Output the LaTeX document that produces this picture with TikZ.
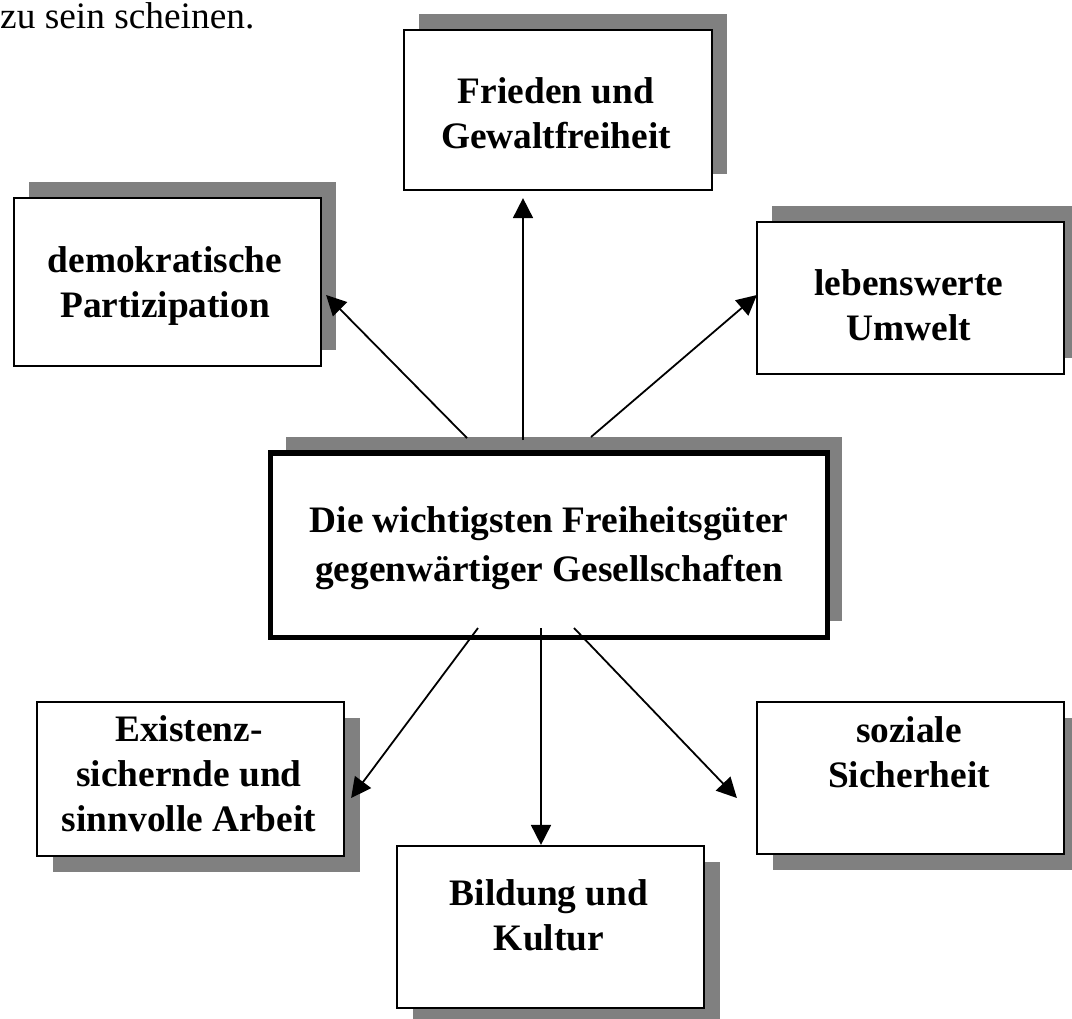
\documentclass[tikz,border=0pt]{standalone}
\usepackage{fontspec}
\setmainfont{Liberation Serif}
\usetikzlibrary{arrows.meta,shadows,calc}
\definecolor{shadowgray}{HTML}{808080}
\begin{document}
\begin{tikzpicture}[x=1bp,y=-1bp,
  box/.style={draw=black, line width=2.2bp, fill=white, inner sep=0pt},
  upshadow/.style={general shadow={fill=shadowgray, shadow xshift=15bp, shadow yshift=16bp}},
  downshadow/.style={general shadow={fill=shadowgray, shadow xshift=16bp, shadow yshift=-16bp}},
  lbl/.style={font=\fontsize{37.5}{45}\selectfont\bfseries, align=center, inner sep=0pt, anchor=base},
  conn/.style={line width=1.8bp, -{Triangle[length=20bp,width=20bp]}}]
\useasboundingbox (0,0) rectangle (1072,1019);

% running text above the diagram
\node[font=\fontsize{37.5}{45}\selectfont, anchor=base west, inner sep=0pt] (runon) at (0,28) {zu sein scheinen.};

% outer boxes (sizes are path sizes; borders add about 2bp)
\node[box, upshadow, minimum width=308bp, minimum height=160bp] (frieden) at (558,110) {};
\node[box, upshadow, minimum width=307bp, minimum height=168bp] (demo) at (167.5,282) {};
\node[box, upshadow, minimum width=307bp, minimum height=152bp] (leben) at (910.5,298) {};
\node[box, downshadow, minimum width=307bp, minimum height=154bp] (exist) at (190.5,779) {};
\node[box, downshadow, minimum width=307bp, minimum height=162bp] (bildung) at (550.5,927) {};
\node[box, downshadow, minimum width=307bp, minimum height=152bp] (sozial) at (910.5,778) {};

% central box
\node[box, line width=5.5bp, upshadow, minimum width=556.5bp, minimum height=184.5bp] (mitte) at (549,545) {};

% box texts (anchored at the baseline of the last line)
\node[lbl] (tfrieden) at (556,148) {Frieden und\\Gewaltfreiheit};
\node[lbl] (tdemo) at (165,317) {demokratische\\Partizipation};
\node[lbl] (tleben) at (909,340) {lebenswerte\\Umwelt};
\node[lbl] (texist) at (189,831) {Existenz-\\sichernde und\\sinnvolle Arbeit};
\node[lbl] (tbildung) at (549,950) {Bildung und\\Kultur};
\node[lbl] (tsozial) at (909,787) {soziale\\Sicherheit};
\node[lbl, font=\fontsize{37.5}{49}\selectfont\bfseries] (tmitte) at (549,581) {Die wichtigsten Freiheitsgüter\\gegenwärtiger Gesellschaften};

% connector start points on the central box and its shadow
\coordinate (s1) at (467,438);
\coordinate (s2) at (523,440);
\coordinate (s3) at (591,437);
\coordinate (s4) at (478,628);
\coordinate (s5) at (541,628);
\coordinate (s6) at (574,628);

% connectors
\draw[conn] (s1) -- ($(demo.east)+(4,13)$);
\draw[conn] (s2) -- ($(s2 |- frieden.south)+(0,7)$);
\draw[conn] (s3) -- ($(leben.west)+(1,-3)$);
\draw[conn] (s4) -- ($(exist.east)+(6,19)$);
\draw[conn] (s5) -- (s5 |- bildung.north);
\draw[conn] (s6) -- ($(sozial.west)+(-19,20)$);
\end{tikzpicture}
\end{document}
